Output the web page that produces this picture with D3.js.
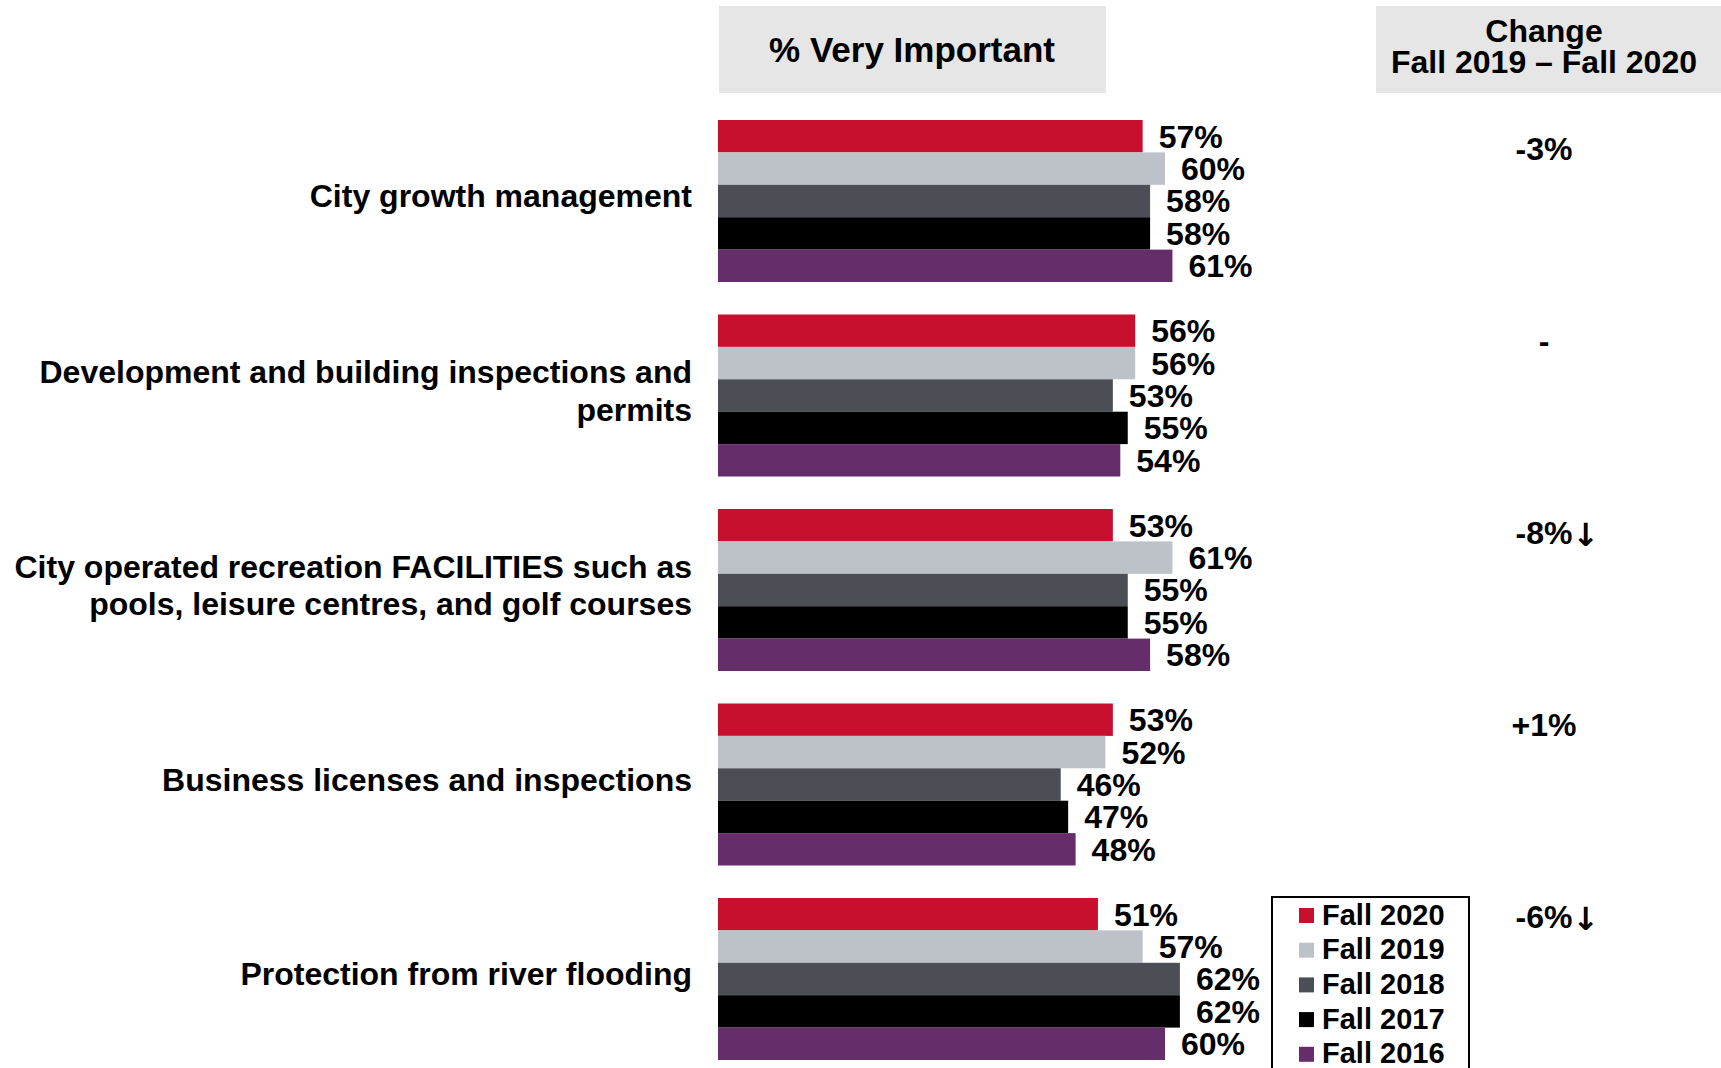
<!DOCTYPE html>
<html>
<head>
<meta charset="utf-8">
<script src="https://cdn.jsdelivr.net/npm/d3@7"></script>
<style>
  body { margin: 0; background: #fff; }
  text { font-family: "Liberation Sans", Arial, sans-serif; font-weight: bold; fill: #000; }
</style>
</head>
<body>
<svg id="chart" width="1721" height="1068"></svg>
<script>
const categories = [
    ["City growth management"],
    ["Development and building inspections and", "permits"],
    ["City operated recreation FACILITIES such as", "pools, leisure centres, and golf courses"],
    ["Business licenses and inspections"],
    ["Protection from river flooding"]
];
const series = ["Fall 2020", "Fall 2019", "Fall 2018", "Fall 2017", "Fall 2016"];
const fall2020 = [57, 56, 53, 53, 51];
const fall2019 = [60, 56, 61, 52, 57];
const fall2018 = [58, 53, 55, 46, 62];
const fall2017 = [58, 55, 55, 47, 62];
const fall2016 = [61, 54, 58, 48, 60];
const changes = ["-3%", "-", "-8%", "+1%", "-6%"];
const changeDown = [false, false, true, false, true];
const colors = ["#C8102E", "#BCC2C8", "#4B4E55", "#000000", "#662D6B"];

const values = [fall2020, fall2019, fall2018, fall2017, fall2016];
const data = categories.map((c, i) => ({
    idx: i,
    label: c,
    bars: series.map((s, j) => ({ series: s, value: values[j][i] })),
    change: changes[i],
    down: changeDown[i]
}));

const svg = d3.select("#chart");

const x = d3.scaleLinear().domain([0, 100]).range([718, 718 + 745]);
const y = d3.scaleBand().domain(d3.range(categories.length)).range([120, 1060]).paddingInner(0.167);
const yInner = d3.scaleBand().domain(series).range([0, y.bandwidth()]);
const yChange = d3.scalePoint().domain(d3.range(categories.length)).range([152, 920]);
const color = d3.scaleOrdinal().domain(series).range(colors);

// header boxes
svg.append("rect").attr("x", 719).attr("y", 6).attr("width", 387).attr("height", 87).attr("fill", "#E6E6E6");
svg.append("text").attr("x", 912).attr("y", 53).attr("text-anchor", "middle").attr("dominant-baseline", "middle")
    .style("font-size", "35px").text("% Very Important");

svg.append("rect").attr("x", 1376).attr("y", 6).attr("width", 345).attr("height", 87).attr("fill", "#E6E6E6");
svg.append("text").attr("x", 1544).attr("y", 34).attr("text-anchor", "middle").attr("dominant-baseline", "middle")
    .style("font-size", "32px").text("Change");
svg.append("text").attr("x", 1544).attr("y", 65).attr("text-anchor", "middle").attr("dominant-baseline", "middle")
    .style("font-size", "32px").text("Fall 2019 \u2013 Fall 2020");

const groups = svg.selectAll("g.group").data(data).join("g")
    .attr("class", "group")
    .attr("transform", d => `translate(0,${y(d.idx)})`);

groups.selectAll("rect").data(d => d.bars).join("rect")
    .attr("x", x(0))
    .attr("y", d => yInner(d.series))
    .attr("width", d => x(d.value) - x(0))
    .attr("height", yInner.bandwidth())
    .attr("fill", d => color(d.series));

groups.selectAll("text.val").data(d => d.bars).join("text")
    .attr("class", "val")
    .attr("x", d => x(d.value) + 16)
    .attr("y", d => yInner(d.series) + yInner.bandwidth() / 2 + 3)
    .attr("dominant-baseline", "middle")
    .style("font-size", "32px")
    .text(d => d.value + "%");

// category labels
groups.each(function (d) {
    const g = d3.select(this);
    const lh = 37.5;
    const mid = y.bandwidth() / 2 - 2;
    d.label.forEach((line, k) => {
        g.append("text")
            .attr("x", 692)
            .attr("y", mid + (k - (d.label.length - 1) / 2) * lh)
            .attr("text-anchor", "end")
            .attr("dominant-baseline", "middle")
            .style("font-size", "32px")
            .text(line);
    });
});

// change column
data.forEach(d => {
    const t = svg.append("text")
        .attr("x", 1544)
        .attr("y", yChange(d.idx))
        .attr("text-anchor", "middle")
        .attr("dominant-baseline", "middle")
        .style("font-size", "32px")
        .text(d.change);
    if (d.down) {
        const bb = t.node().getBBox();
        svg.append("text")
            .attr("x", bb.x + bb.width)
            .attr("y", yChange(d.idx) + 1)
            .attr("dominant-baseline", "middle")
            .style("font-family", "'DejaVu Sans', sans-serif")
            .style("font-size", "32px")
            .text("\u2193");
    }
});

// legend
const legend = svg.append("g").attr("transform", "translate(1272,897)");
legend.append("rect").attr("width", 197).attr("height", 190)
    .attr("fill", "#fff").attr("stroke", "#000").attr("stroke-width", 2);
series.forEach((s, i) => {
    const row = legend.append("g").attr("transform", `translate(27, ${i * 34.7 + 11})`);
    row.append("rect").attr("width", 15).attr("height", 15).attr("fill", color(s));
    row.append("text").attr("x", 23).attr("y", 9).attr("dominant-baseline", "middle")
        .style("font-size", "29px").text(s);
});
</script>
</body>
</html>
